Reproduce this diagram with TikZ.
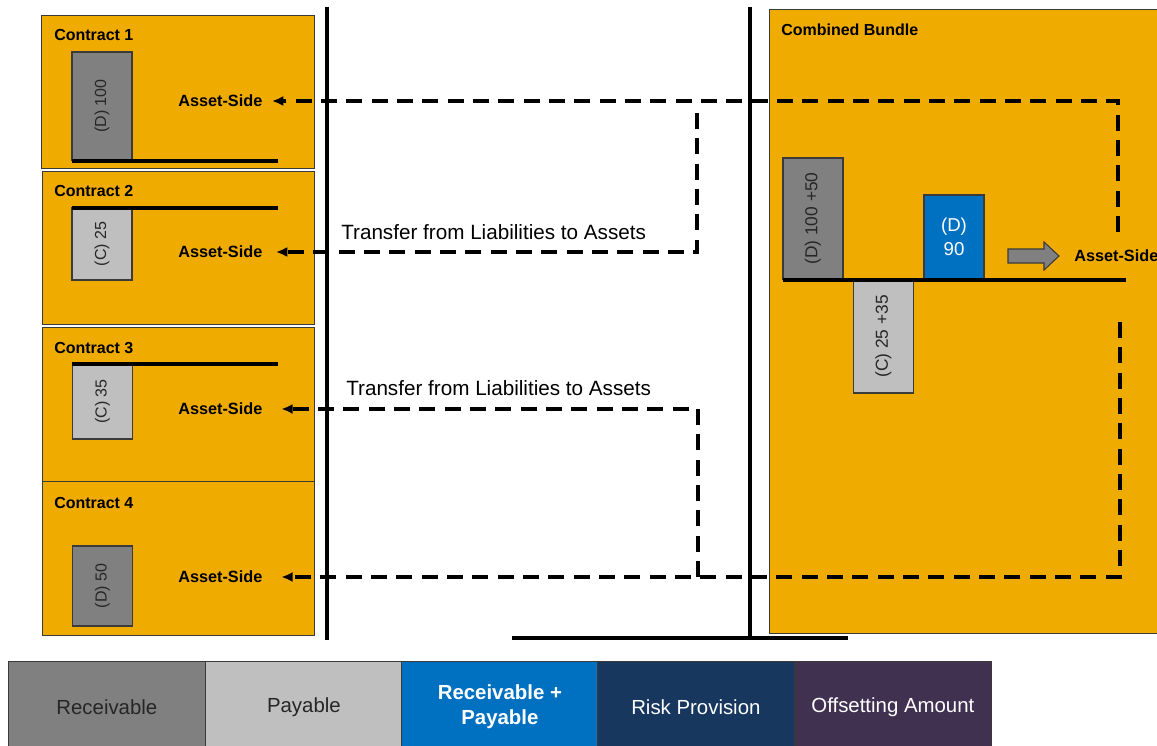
\documentclass[tikz,border=0pt]{standalone}
\usepackage{fontspec}
\setmainfont{Liberation Sans}
\usetikzlibrary{arrows.meta}
\definecolor{orng}{HTML}{F0AB00}
\definecolor{recv}{HTML}{808080}
\definecolor{payb}{HTML}{BFBFBF}
\definecolor{blu}{HTML}{0070C0}
\definecolor{navy}{HTML}{17375E}
\definecolor{purp}{HTML}{403151}
\definecolor{edgec}{HTML}{3A3A3A}
\definecolor{txtd}{HTML}{262626}
\begin{document}
\begin{tikzpicture}[x=0.75pt,y=-0.75pt,
  boxc/.style={draw=edgec, line width=0.8pt, fill=orng, anchor=north west, inner sep=0pt},
  ttl/.style={anchor=west, inner sep=0pt, font=\fontsize{12pt}{14pt}\selectfont\bfseries},
  asset/.style={anchor=west, inner ysep=0pt, inner xsep=0pt, font=\fontsize{12.2pt}{14pt}\selectfont\bfseries},
  barv/.style={draw=edgec, line width=0.8pt, rotate=90, inner sep=0pt, minimum height=45pt, text=txtd, font=\fontsize{12pt}{14pt}\selectfont},
  baseln/.style={line width=2.4pt},
  divider/.style={line width=3pt},
  conn/.style={line width=2.8pt, dash pattern=on 12pt off 7pt, -{Latex[length=8.5pt,width=7.5pt]}},
  xfer/.style={anchor=west, inner sep=0pt, font=\fontsize{15.5pt}{18pt}\selectfont},
  legc/.style={draw=edgec, line width=0.8pt, anchor=north west, minimum width=147.5pt, minimum height=68pt, inner sep=0pt, align=center, font=\fontsize{15.3pt}{18pt}\selectfont}
]
\useasboundingbox (0,0) rectangle (1157,746);
\fill[white] (0,0) rectangle (1157,746);

% contract boxes
\node[boxc, minimum width=273*0.75pt, minimum height=153*0.75pt] (c1) at (41,15) {};
\node[boxc, minimum width=272*0.75pt, minimum height=153*0.75pt] (c2) at (42,171) {};
\node[boxc, minimum width=272*0.75pt, minimum height=154*0.75pt] (c3) at (42,327) {};
\node[boxc, minimum width=272*0.75pt, minimum height=154*0.75pt] (c4) at (42,481) {};
\node[ttl] (c1t) at (54,35) {Contract 1};
\node[ttl] (c2t) at (54,191) {Contract 2};
\node[ttl] (c3t) at (54,348) {Contract 3};
\node[ttl] (c4t) at (54,503) {Contract 4};

% bars in contracts
\node[barv, fill=recv, minimum width=108*0.75pt] (b1) at (102,106) {(D) 100};
\node[barv, fill=payb, minimum width=72*0.75pt] (b2) at (102,244) {(C) 25};
\node[barv, fill=payb, minimum width=75*0.75pt] (b3) at (102.5,401.5) {(C) 35};
\node[barv, fill=recv, minimum width=80*0.75pt] (b4) at (102.5,586) {(D) 50};
\coordinate (l1a) at (72,161); \coordinate (l1b) at (278,161);
\coordinate (l2a) at (72,208); \coordinate (l2b) at (278,208);
\coordinate (l3a) at (72,364); \coordinate (l3b) at (278,364);
\draw[baseln] (l1a) -- (l1b);
\draw[baseln] (l2a) -- (l2b);
\draw[baseln] (l3a) -- (l3b);

\node[asset] (a1) at (178,101) {Asset-Side};
\node[asset] (a2) at (178,252) {Asset-Side};
\node[asset] (a3) at (178,409) {Asset-Side};
\node[asset] (a4) at (178,577) {Asset-Side};

% dividers
\coordinate (v1a) at (327,7); \coordinate (v1b) at (327,640);
\coordinate (v2a) at (750,7); \coordinate (v2b) at (750,638);
\coordinate (h2a) at (512,638); \coordinate (h2b) at (848,638);
\draw[divider] (v1a) -- (v1b);
\draw[divider] (v2a) -- (v2b);
\draw[divider] (h2a) -- (h2b);

% combined bundle
\node[boxc, minimum width=420*0.75pt, minimum height=624*0.75pt] (bb) at (769,9) {};
\node[ttl] (bbt) at (781,30) {Combined Bundle};
\node[barv, fill=recv, minimum width=121*0.75pt, font=\fontsize{13pt}{15pt}\selectfont] (bb1) at (813,218.5) {(D) 100 +50};
\node[barv, fill=payb, minimum width=113*0.75pt, font=\fontsize{13pt}{15pt}\selectfont] (bb2) at (883.5,336.5) {(C) 25 +35};
\node[draw=edgec, line width=0.8pt, fill=blu, minimum width=45pt, minimum height=84*0.75pt, inner sep=0pt, align=center, text=white, font=\fontsize{14pt}{18pt}\selectfont] (bb3) at (954,237) {(D)\\90};
\coordinate (lba) at (783,280); \coordinate (lbb) at (1126,280);
\draw[baseln] (lba) -- (lbb);
\filldraw[fill=recv, draw=edgec, line width=0.8pt] (1008,249) -- (1044,249) -- (1044,242) -- (1059,256) -- (1044,270) -- (1044,263) -- (1008,263) -- cycle;
\node[asset] (ab) at (1074,256) {Asset-Side};

% dashed transfers
\coordinate (k1) at (1118,232);
\coordinate (k2) at (697,113);
\coordinate (k3) at (698,577);
\coordinate (k4) at (1120,322);
\draw[conn, shorten >=7pt] (k1) |- (a1);
\draw[conn, shorten >=10pt] (k2) |- (a2);
\draw[conn, shorten >=14pt] (k3) |- (a3);
\draw[conn, shorten >=14pt] (k4) |- (a4);
\node[xfer] (t1) at (341,232) {Transfer from Liabilities to Assets};
\node[xfer] (t2) at (346,388) {Transfer from Liabilities to Assets};

% legend
\node[legc, fill=recv, text=txtd] (g1) at (8,661) {Receivable};
\node[legc, fill=payb, text=txtd] (g2) at (205,661) {Payable};
\node[legc, fill=blu, text=white, font=\fontsize{15.3pt}{18.5pt}\selectfont\bfseries] (g3) at (401,661) {Receivable +\\Payable};
\node[legc, fill=navy, text=white] (g4) at (597,661) {Risk Provision};
\node[legc, fill=purp, text=white] (g5) at (794,661) {Offsetting Amount};
\end{tikzpicture}
\end{document}
